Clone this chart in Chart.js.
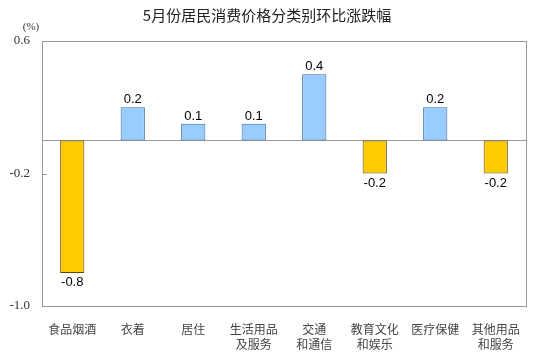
<!DOCTYPE html>
<html><head><meta charset="utf-8">
<script src="https://cdn.jsdelivr.net/npm/chart.js@4/dist/chart.umd.min.js"></script>
<style>html,body{margin:0;padding:0;background:#fff}#wrap{width:533px;height:352px}</style>
</head><body><div id="wrap"><canvas id="c" width="533" height="352"></canvas></div>
<script>
const categories = [["食品烟酒"],["衣着"],["居住"],["生活用品","及服务"],["交通","和通信"],["教育文化","和娱乐"],["医疗保健"],["其他用品","和服务"]];
const values = [-0.8, 0.2, 0.1, 0.1, 0.4, -0.2, 0.2, -0.2];
const yTicks = [0.6, -0.2, -1.0];
const titleText = "5月份居民消费价格分类别环比涨跌幅";
const unitText = "(%)";

const decor = {
  id: 'decor',
  beforeDatasetsDraw(chart) {
    const {ctx, chartArea: a, scales: {y}} = chart;
    ctx.save();
    ctx.strokeStyle = '#9a9a9a';
    ctx.lineWidth = 1;
    ctx.strokeRect(Math.round(a.left)+0.5, Math.round(a.top)+0.5, Math.round(a.right-a.left), Math.round(a.bottom-a.top));
    const z = Math.round(y.getPixelForValue(0))+0.5;
    ctx.beginPath(); ctx.moveTo(a.left, z); ctx.lineTo(a.right, z); ctx.stroke();
    const t = Math.round(y.getPixelForValue(-0.2))+0.5;
    ctx.beginPath(); ctx.moveTo(a.left, t); ctx.lineTo(a.left+5, t); ctx.stroke();
    ctx.restore();
  },
  afterDraw(chart) {
    const {ctx} = chart;
    ctx.save();
    ctx.fillStyle = '#222';
    ctx.font = '15px "Noto Sans CJK SC"';
    ctx.textAlign = 'center'; ctx.textBaseline = 'middle';
    ctx.fillText(titleText, 267, 15);
    ctx.fillStyle = '#333';
    ctx.font = '11px "Liberation Serif"';
    ctx.fillText(unitText, 31, 27);
    const meta = chart.getDatasetMeta(0);
    ctx.fillStyle = '#000';
    ctx.font = '13px "Liberation Sans"';
    meta.data.forEach((bar, i) => {
      const v = values[i];
      if (v >= 0) { ctx.textBaseline = 'bottom'; ctx.fillText(v.toFixed(1), bar.x, bar.y - 1); }
      else { ctx.textBaseline = 'top'; ctx.fillText(v.toFixed(1), bar.x, bar.y + 3); }
    });
    ctx.restore();
  }
};

new Chart(document.getElementById('c'), {
  type: 'bar',
  data: {
    labels: categories,
    datasets: [{
      data: values,
      backgroundColor: values.map(v => v >= 0 ? '#99ccff' : '#ffcc00'),
      borderColor: values.map(v => v >= 0 ? '#3a6a9a' : '#5a4a10'),
      borderWidth: 1,
      borderSkipped: false,
      barPercentage: 0.4,
      categoryPercentage: 1.0
    }]
  },
  options: {
    responsive: false,
    animation: false,
    devicePixelRatio: 1,
    layout: {padding: {top: 41, right: 7, left: 0, bottom: 0}},
    plugins: {legend: {display: false}, title: {display: false}, tooltip: {enabled: false}},
    scales: {
      x: {
        grid: {display: false},
        border: {display: false},
        ticks: {color: '#444', font: {family: '"Noto Sans CJK SC"', size: 12, lineHeight: 1.25}, padding: 8, maxRotation: 0, autoSkip: false},
        afterFit(s) { s.height = 46; }
      },
      y: {
        min: -1.0, max: 0.6,
        afterBuildTicks(s) { s.ticks = yTicks.map(v => ({value: v})); },
        grid: {display: false, drawTicks: false},
        border: {display: false},
        ticks: {color: '#333', font: {family: '"Liberation Serif"', size: 13}, padding: 12,
          callback: v => v.toFixed(1)},
        afterFit(s) { s.width = 42; }
      }
    }
  },
  plugins: [decor]
});
</script></body></html>
